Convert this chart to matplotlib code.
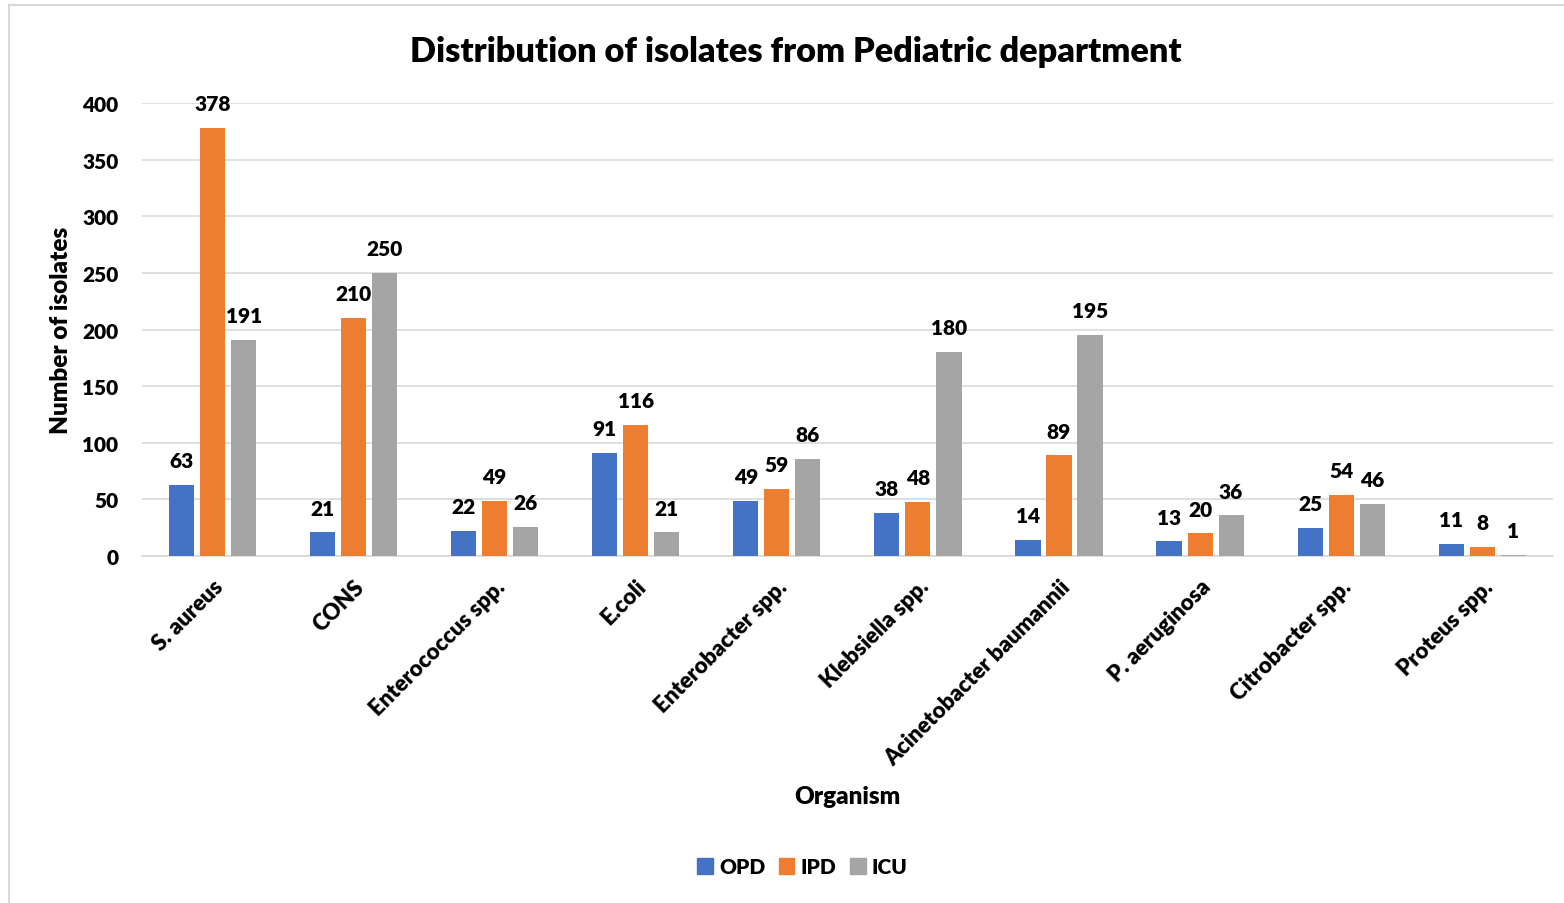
import matplotlib.pyplot as plt
import numpy as np
from matplotlib.patches import Rectangle
from matplotlib.lines import Line2D

plt.rcParams['font.family'] = ['Lato', 'DejaVu Sans']
plt.rcParams['font.weight'] = 'bold'

organisms = ["S. aureus", "CONS", "Enterococcus spp.", "E.coli", "Enterobacter spp.",
             "Klebsiella spp.", "Acinetobacter baumannii", "P. aeruginosa",
             "Citrobacter spp.", "Proteus spp."]
opd = [63, 21, 22, 91, 49, 38, 14, 13, 25, 11]
ipd = [378, 210, 49, 116, 59, 48, 89, 20, 54, 8]
icu = [191, 250, 26, 21, 86, 180, 195, 36, 46, 1]

series = [("OPD", opd, "#4472C4"), ("IPD", ipd, "#ED7D31"), ("ICU", icu, "#A5A5A5")]
W = "heavy"

fig = plt.figure(figsize=(15.64, 9.04), dpi=100)
ax = fig.add_axes([0.0908, 0.3838, 0.902, 0.5012])

# light chart border (left + top only, as in the reference crop)
fig.add_artist(Line2D([0.006, 0.006], [0.0, 0.993], color="#d9d9d9", lw=1.5,
                      transform=fig.transFigure))
fig.add_artist(Line2D([0.006, 1.0], [0.993, 0.993], color="#d9d9d9", lw=1.5,
                      transform=fig.transFigure))

x = np.arange(len(organisms))
width = 0.178
offsets = [-0.22, 0, 0.22]

for (name, vals, color), off in zip(series, offsets):
    bars = ax.bar(x + off, vals, width, color=color, label=name, zorder=3)
    for b, v in zip(bars, vals):
        ax.text(b.get_x() + b.get_width() / 2, v + 13, str(v), ha="center", va="bottom",
                fontsize=15, fontweight=W, color="black")

ax.set_xlim(-0.5, len(organisms) - 0.5)
ax.set_ylim(0, 400)
ax.set_yticks(range(0, 401, 50))
ax.yaxis.grid(True, color="#d9d9d9", lw=1.2, zorder=0)
ax.set_axisbelow(True)
for s in ["top", "right", "left"]:
    ax.spines[s].set_visible(False)
ax.spines["bottom"].set_color("#d9d9d9")
ax.spines["bottom"].set_linewidth(1.2)
ax.tick_params(axis="both", length=0)
ax.tick_params(axis="y", pad=17, labelsize=15)
ax.tick_params(axis="x", pad=14, labelsize=16)
ax.set_xticks(x)
ax.set_xticklabels(organisms, rotation=45, ha="right", rotation_mode="anchor",
                   fontweight=W)
for lab in ax.get_yticklabels():
    lab.set_fontweight(W)

ax.set_ylabel("Number of isolates", fontsize=17.5, fontweight=W, labelpad=7)
fig.text(0.542, 0.118, "Organism", ha="center", va="center", fontsize=17.5, fontweight=W)
fig.text(0.509, 0.943, "Distribution of isolates from Pediatric department",
         ha="center", va="center", fontsize=24.7, fontweight=W)

handles = [Rectangle((0, 0), 1, 1, color=c) for _, _, c in series]
fig.legend(handles, [n for n, _, _ in series], loc="center", bbox_to_anchor=(0.513, 0.040),
           ncol=3, frameon=False, prop={"size": 15, "weight": W}, handlelength=0.75,
           handleheight=0.75, handletextpad=0.3, columnspacing=0.65)

plt.savefig("out.png", dpi=100)
